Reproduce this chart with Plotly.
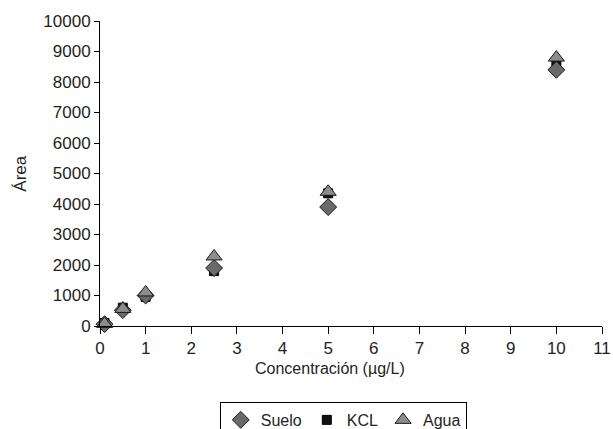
import plotly.graph_objects as go

conc = [0.1, 0.5, 1, 2.5, 5, 10]
suelo = [60, 520, 1000, 1900, 3900, 8400]
kcl = [100, 600, 950, 1800, 4350, 8600]
agua = [70, 560, 1100, 2280, 4400, 8800]

x_ticks = list(range(0, 12))
y_ticks = list(range(0, 10001, 1000))

FONT = "Liberation Sans, Arial, sans-serif"

fig = go.Figure()
fig.add_trace(go.Scatter(x=conc, y=kcl, mode="markers", name="KCL", legendrank=2,
                         marker=dict(symbol="square", size=9, color="#111111",
                                     line=dict(color="#000000", width=1)),
                         cliponaxis=False))
fig.add_trace(go.Scatter(x=conc, y=suelo, mode="markers", name="Suelo", legendrank=1,
                         marker=dict(symbol="diamond", size=13, color="#6a6a6a",
                                     line=dict(color="#1a1a1a", width=1)),
                         cliponaxis=False))
fig.add_trace(go.Scatter(x=conc, y=agua, mode="markers", name="Agua", legendrank=3,
                         marker=dict(symbol="triangle-up", size=14, color="#8c8c8c",
                                     line=dict(color="#1a1a1a", width=1)),
                         cliponaxis=False))

fig.update_layout(
    width=613, height=429,
    margin=dict(l=100, r=11, t=21, b=103, autoexpand=False),
    paper_bgcolor="white", plot_bgcolor="white",
    font=dict(family=FONT, size=17, color="#231f20"),
    showlegend=True,
    legend=dict(orientation="h", xref="container", yref="container",
                x=0.56, xanchor="center", y=0.063, yanchor="top",
                bordercolor="#000000", borderwidth=1, font=dict(size=16),
                itemwidth=30, tracegroupgap=0),
    annotations=[
        dict(text="Concentración (µg/L)", xref="paper", yref="paper",
             x=0.458, y=-0.138, xanchor="center", yanchor="middle",
             showarrow=False, font=dict(size=16)),
        dict(text="Área", xref="paper", yref="paper", x=-0.159, y=0.5,
             xanchor="center", yanchor="middle", textangle=-90,
             showarrow=False, font=dict(size=17)),
    ],
)
fig.update_xaxes(range=[0, 11], tickvals=x_ticks, ticktext=[str(v) for v in x_ticks],
                 showgrid=False, zeroline=False, showline=True, linecolor="#000000",
                 linewidth=1, ticks="outside", ticklen=7, tickcolor="#000000",
                 tickfont=dict(size=17), automargin=False)
fig.update_yaxes(range=[0, 10000], tickvals=y_ticks, ticktext=[str(v) for v in y_ticks],
                 showgrid=False, zeroline=False, showline=True, linecolor="#000000",
                 linewidth=1, ticks="outside", ticklen=5, tickcolor="#000000",
                 tickfont=dict(size=17), automargin=False)

fig.write_html("out.html", config={"displayModeBar": False},
               post_script="document.body.style.margin='0';document.body.style.overflow='hidden';")
